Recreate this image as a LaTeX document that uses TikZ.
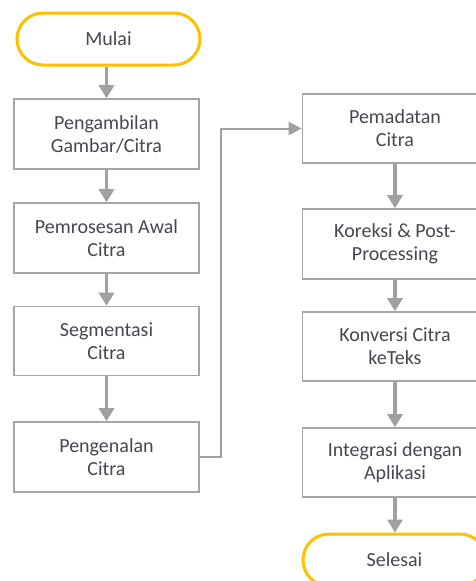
\documentclass[tikz,border=0pt]{standalone}
\usepackage{fontspec}
\setmainfont{Carlito}
\usetikzlibrary{arrows.meta}
\definecolor{boxline}{RGB}{166,166,166}
\definecolor{arrowc}{RGB}{160,160,160}
\definecolor{termc}{RGB}{255,192,0}
\definecolor{txtc}{RGB}{72,70,82}
\begin{document}
\begin{tikzpicture}[x=1pt,y=-1pt,
  every node/.style={font=\fontsize{20}{23}\selectfont, text=txtc, align=center, inner sep=0pt},
  procbox/.style={draw=boxline, line width=1.6pt, fill=white, minimum width=185pt, minimum height=70pt},
  termbox/.style={draw=termc, line width=3pt, fill=white, rounded corners=26pt, minimum width=183pt, minimum height=52pt},
  flowarrow/.style={draw=arrowc, line width=3.5pt, -{Triangle[width=15pt,length=13pt]}},
  elbowarrow/.style={draw=arrowc, line width=2pt, -{Triangle[width=13pt,length=13pt]}}
]
\useasboundingbox (0,0) rectangle (476,581);
\clip (0,0) rectangle (476,581);
\fill[white] (0,0) rectangle (476,581);

\node[termbox] (mulai) at (108.5,39) {Mulai};
\node[procbox] (b1) at (106.5,134) {Pengambilan\\Gambar/Citra};
\node[procbox] (b2) at (106.5,238) {Pemrosesan Awal\\Citra};
\node[procbox, minimum height=69pt] (b3) at (106.5,341) {Segmentasi\\Citra};
\node[procbox] (b4) at (106.5,457) {Pengenalan\\Citra};

\node[procbox, minimum height=69pt] (b5) at (395,128.5) {Pemadatan\\Citra};
\node[procbox] (b6) at (395,244) {Koreksi \& Post-\\Processing};
\node[procbox, minimum height=69pt] (b7) at (395,346.5) {Konversi Citra\\keTeks};
\node[procbox, minimum height=69pt] (b8) at (395,462.5) {Integrasi dengan\\Aplikasi};
\node[termbox] (selesai) at (394.5,560) {Selesai};

\draw[flowarrow] (mulai.south -| b1.north) -- (b1.north);
\draw[flowarrow] (b1) -- (b2);
\draw[flowarrow] (b2) -- (b3);
\draw[flowarrow] (b3) -- (b4);
\draw[elbowarrow] (b4.east) -- ++(21,0) |- (b5.west);
\draw[flowarrow] (b5) -- (b6);
\draw[flowarrow] (b6) -- (b7);
\draw[flowarrow] (b7) -- (b8);
\draw[flowarrow] (b8.south) -- (b8.south |- selesai.north);
\end{tikzpicture}
\end{document}
